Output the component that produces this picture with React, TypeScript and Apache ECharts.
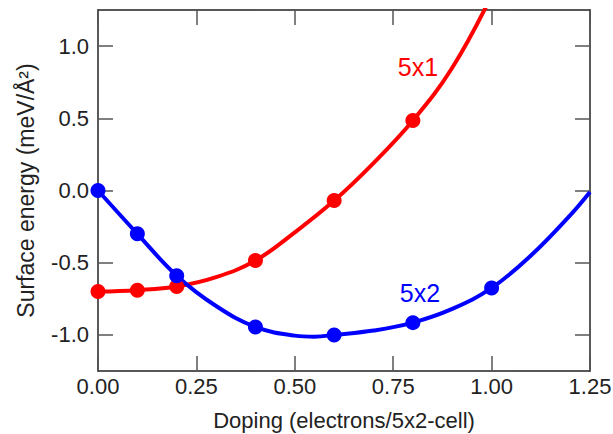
import React, { useEffect, useRef } from "react";
import * as echarts from "echarts";

// Measured points
const red5x1Points: [number, number][] = [
  [0.0, -0.7], [0.1, -0.69], [0.2, -0.665], [0.4, -0.485], [0.6, -0.07], [0.8, 0.485],
];
const blue5x2Points: [number, number][] = [
  [0.0, 0.0], [0.1, -0.3], [0.2, -0.59], [0.4, -0.945], [0.6, -1.0], [0.8, -0.915], [1.0, -0.675],
];
// Fitted curves
const red5x1Curve: [number, number][] = [
  [0.0, -0.7], [0.1, -0.69], [0.2, -0.665], [0.3, -0.6], [0.4, -0.485], [0.5, -0.29],
  [0.6, -0.07], [0.7, 0.19], [0.8, 0.485], [0.9, 0.85], [1.0, 1.35],
];
const blue5x2Curve: [number, number][] = [
  [0.0, 0.0], [0.1, -0.3], [0.2, -0.59], [0.3, -0.8], [0.4, -0.945], [0.5, -1.005],
  [0.55, -1.012], [0.6, -1.0], [0.7, -0.97], [0.8, -0.915], [0.9, -0.82], [1.0, -0.675],
  [1.1, -0.45], [1.2, -0.17], [1.25, -0.01],
];
const yTickValues = [-1.0, -0.5, 0.0, 0.5, 1.0];
const xTickValues = [0, 0.25, 0.5, 0.75, 1.0, 1.25];

const FONT = "Liberation Sans, Arial, sans-serif";

export default function App() {
  const ref = useRef<HTMLDivElement>(null);
  useEffect(() => {
    if (!ref.current) return;
    const chart = echarts.init(ref.current, undefined, { renderer: "svg" });
    const tickStyle = { lineStyle: { color: "#555", width: 1.5 } };
    const lineStyle = { color: "#222", width: 1.5 };
    chart.setOption({
      animation: false,
      backgroundColor: "#fff",
      grid: { left: 98, right: 23, top: 10, bottom: 63, containLabel: false, outerBoundsMode: "none" },
      xAxis: [
        {
          type: "value", position: "bottom", min: 0, max: 1.25, interval: 0.25,
          name: "Doping (electrons/5x2-cell)", nameLocation: "middle", nameGap: 38,
          nameTextStyle: { fontSize: 22, color: "#222", fontFamily: FONT },
          axisLine: { show: true, onZero: false, lineStyle },
          axisTick: { show: true, inside: true, length: 15, customValues: xTickValues, ...tickStyle },
          axisLabel: { fontSize: 22, color: "#222", fontFamily: FONT, margin: 4,
            formatter: (v: number) => v.toFixed(2), customValues: xTickValues },
          splitLine: { show: false },
        },
        {
          type: "value", position: "top", min: 0, max: 1.25, interval: 0.25,
          axisLine: { show: true, onZero: false, lineStyle },
          axisTick: { show: true, inside: true, length: 15, customValues: xTickValues, ...tickStyle },
          axisLabel: { show: false },
          splitLine: { show: false },
        },
      ],
      yAxis: [
        {
          type: "value", position: "left", min: -1.25, max: 1.25, interval: 0.25,
          name: "Surface energy (meV/Å²)", nameLocation: "middle", nameGap: 61, nameRotate: 90,
          nameTextStyle: { fontSize: 23, color: "#222", fontFamily: FONT },
          axisLine: { show: true, onZero: false, lineStyle },
          axisTick: { show: true, inside: true, length: 15, customValues: yTickValues, ...tickStyle },
          axisLabel: { fontSize: 22, color: "#222", fontFamily: FONT, margin: 9,
            formatter: (v: number) => v.toFixed(1), customValues: yTickValues },
          splitLine: { show: false },
        },
        {
          type: "value", position: "right", min: -1.25, max: 1.25, interval: 0.25,
          axisLine: { show: true, onZero: false, lineStyle },
          axisTick: { show: true, inside: true, length: 15, customValues: yTickValues, ...tickStyle },
          axisLabel: { show: false },
          splitLine: { show: false },
        },
      ],
      series: [
        {
          type: "line", data: red5x1Curve, smooth: 0.4, showSymbol: false, clip: true,
          lineStyle: { color: "#ff0000", width: 4 }, z: 2,
        },
        {
          type: "line", data: blue5x2Curve, smooth: 0.4, showSymbol: false, clip: true,
          lineStyle: { color: "#0000ff", width: 4 }, z: 2,
        },
        {
          type: "scatter", data: red5x1Points, symbolSize: 15, clip: false,
          itemStyle: { color: "#ff0000", opacity: 1 }, z: 3,
        },
        {
          type: "scatter", data: blue5x2Points, symbolSize: 15, clip: false,
          itemStyle: { color: "#0000ff", opacity: 1 }, z: 3,
        },
      ],
      graphic: [
        { type: "text", x: 418, y: 67, style: { text: "5x1", fill: "#ff0000", fontSize: 25,
          fontFamily: FONT, textAlign: "center", textVerticalAlign: "middle" } },
        { type: "text", x: 420, y: 293, style: { text: "5x2", fill: "#0000ff", fontSize: 25,
          fontFamily: FONT, textAlign: "center", textVerticalAlign: "middle" } },
      ],
    });
    return () => chart.dispose();
  }, []);
  return (
    <div
      ref={ref}
      style={{ position: "fixed", left: 0, top: 0, width: 613, height: 434 }}
    />
  );
}
